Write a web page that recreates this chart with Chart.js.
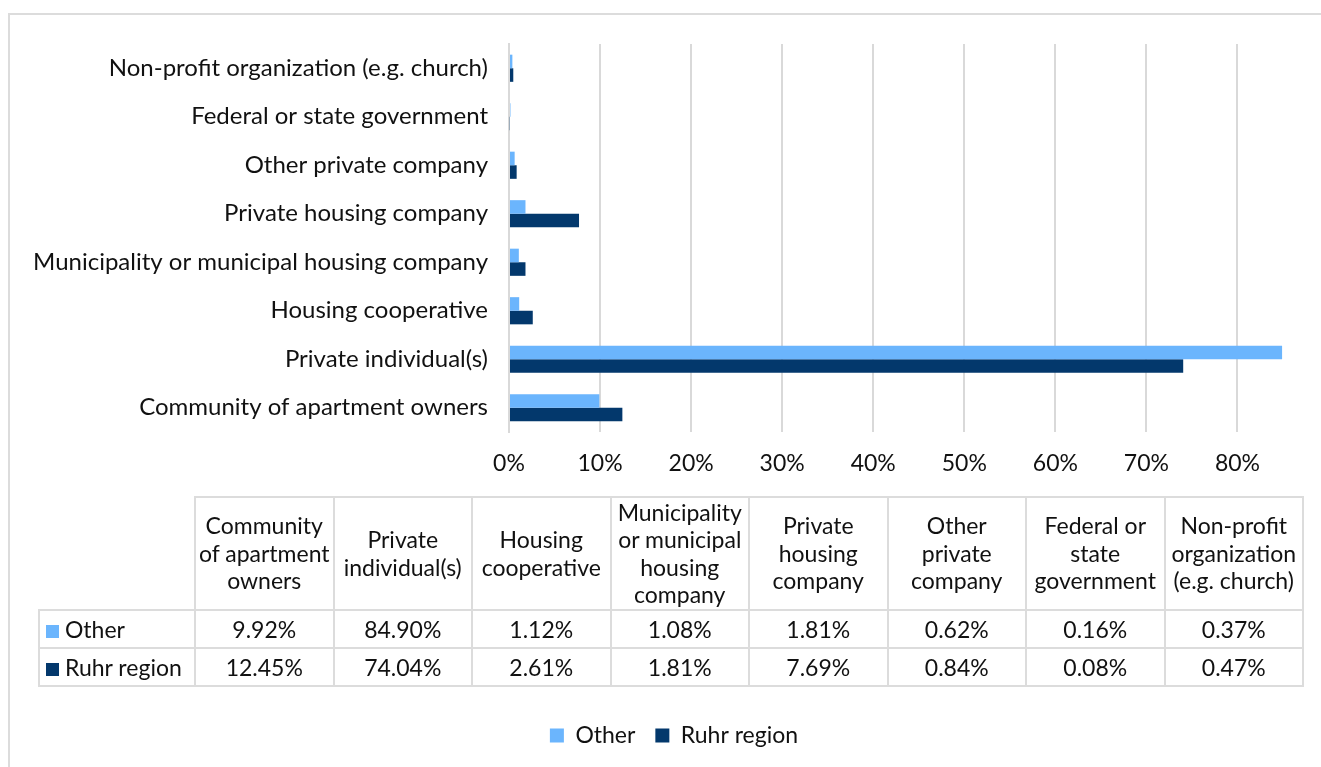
<!DOCTYPE html>
<html>
<head>
<meta charset="utf-8">
<script src="https://cdn.jsdelivr.net/npm/chart.js@4.4.1/dist/chart.umd.min.js"></script>
<style>
  body { margin: 0; background: #fff; font-family: Lato, sans-serif; }
  #marco { position: absolute; left: 8px; top: 13px; width: 1400px; height: 800px; border: 2px solid #dcdcdc; }
  #lienzo { position: absolute; left: 0; top: 0; }
  #tabla { position: absolute; left: 38px; top: 496px; width: 1264px; border-collapse: collapse; table-layout: fixed; font-size: 23px; color: #111; }
  #tabla td { border: 2px solid #dcdcdc; text-align: center; padding: 0; white-space: nowrap; }
  #tabla tr.cabecera td { height: 111px; line-height: 27.5px; }
  #tabla tr.fila td { height: 36px; }
  #tabla td.vacia { border-top: none; border-left: none; }
  #tabla td.serie { text-align: left; padding-left: 6px; }
  .cuadro { display: inline-block; width: 13px; height: 13px; margin-right: 6px; }
</style>
</head>
<body>
<div id="marco"></div>
<canvas id="lienzo" width="1321" height="767"></canvas>
<table id="tabla"></table>
<script>
const categorias = [
  'Community of apartment owners',
  'Private individual(s)',
  'Housing cooperative',
  'Municipality or municipal housing company',
  'Private housing company',
  'Other private company',
  'Federal or state government',
  'Non-profit organization (e.g. church)'
];
// cortes de línea de la cabecera de la tabla
const cabeceras = [
  ['Community', 'of apartment', 'owners'],
  ['Private', 'individual(s)'],
  ['Housing', 'cooperative'],
  ['Municipality', 'or municipal', 'housing', 'company'],
  ['Private', 'housing', 'company'],
  ['Other', 'private', 'company'],
  ['Federal or', 'state', 'government'],
  ['Non-profit', 'organization', '(e.g. church)']
];
const series = ['Other', 'Ruhr region'];
const valoresOther = [9.92, 84.90, 1.12, 1.08, 1.81, 0.62, 0.16, 0.37];
const valoresRuhr = [12.45, 74.04, 2.61, 1.81, 7.69, 0.84, 0.08, 0.47];
const marcasX = [0, 10, 20, 30, 40, 50, 60, 70, 80];
const colores = ['#6BB5FD', '#03386C'];

Chart.defaults.font.family = 'Lato, sans-serif';
Chart.defaults.font.size = 23;
Chart.defaults.color = '#111';

// la leyenda se centra sobre la tabla, no sobre todo el lienzo
const moverLeyenda = {
  id: 'moverLeyenda',
  afterLayout(chart) {
    chart.legend.left = 65;
  }
};

new Chart(document.getElementById('lienzo'), {
  type: 'bar',
  data: {
    labels: categorias,
    datasets: [
      { label: series[0], data: valoresOther, backgroundColor: colores[0], categoryPercentage: 0.56, barPercentage: 1 },
      { label: series[1], data: valoresRuhr, backgroundColor: colores[1], categoryPercentage: 0.56, barPercentage: 1 }
    ]
  },
  options: {
    indexAxis: 'y',
    responsive: false,
    animation: false,
    devicePixelRatio: 1,
    layout: { padding: { top: 44, left: 0, right: 38, bottom: 10 } },
    scales: {
      x: {
        min: 0,
        max: 85,
        afterBuildTicks: s => { s.ticks = marcasX.map(v => ({ value: v })); },
        afterFit: s => { s.height = 272; },
        grid: { color: '#d9d9d9', lineWidth: 2, drawTicks: false },
        border: { display: false },
        ticks: { padding: 18, callback: v => v + '%' }
      },
      y: {
        reverse: true,
        afterFit: s => { s.width = 509; },
        grid: { display: false, drawTicks: false },
        border: { color: '#d9d9d9', width: 2 },
        ticks: { padding: 21, font: { size: 24 } }
      }
    },
    plugins: {
      legend: {
        position: 'bottom',
        labels: { boxWidth: 14, boxHeight: 14, padding: 20 }
      },
      tooltip: { enabled: false }
    }
  },
  plugins: [moverLeyenda]
});

// tabla de datos debajo del gráfico
const tabla = document.getElementById('tabla');
let html = '<colgroup><col style="width:156px">' + categorias.map(() => '<col style="width:138.5px">').join('') + '</colgroup>';
html += '<tr class="cabecera"><td class="vacia"></td>' + cabeceras.map(l => '<td>' + l.join('<br>') + '</td>').join('') + '</tr>';
[valoresOther, valoresRuhr].forEach((valores, i) => {
  html += '<tr class="fila"><td class="serie"><span class="cuadro" style="background:' + colores[i] + '"></span>' + series[i] + '</td>' +
    valores.map(v => '<td>' + v.toFixed(2) + '%</td>').join('') + '</tr>';
});
tabla.innerHTML = html;
</script>
</body>
</html>
